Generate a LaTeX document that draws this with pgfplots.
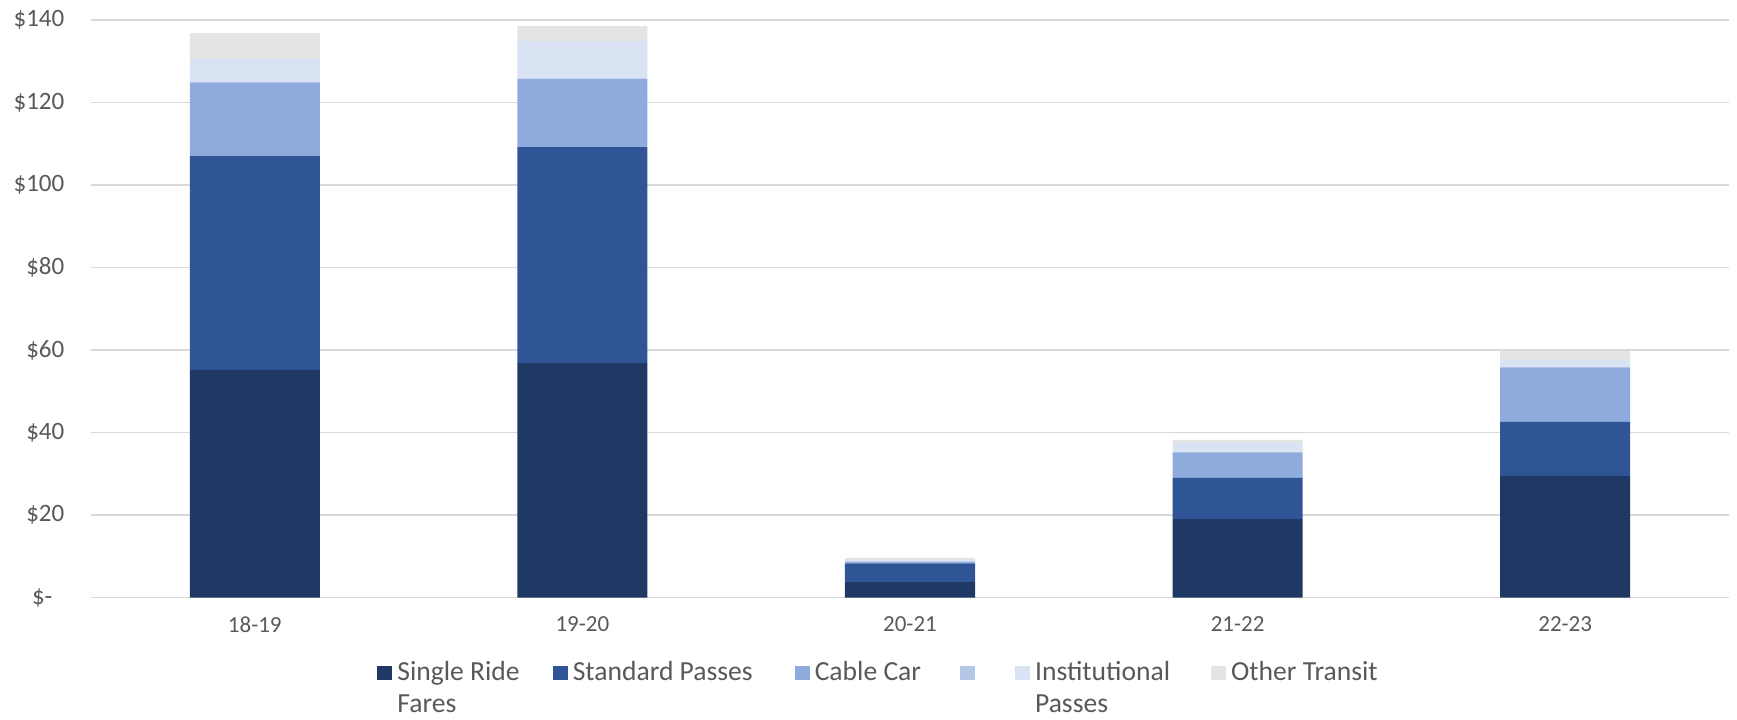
\documentclass[border=0pt]{standalone}
\usepackage{pgfplots}
\pgfplotsset{compat=1.18}
\usepackage{fontspec}
\setmainfont{Carlito}

\definecolor{single}{HTML}{203864}
\definecolor{standard}{HTML}{2F5597}
\definecolor{cable}{HTML}{8FAADC}
\definecolor{blank}{HTML}{B4C7E7}
\definecolor{inst}{HTML}{DAE3F3}
\definecolor{other}{HTML}{E4E4E4}
\definecolor{gridgray}{HTML}{D9D9D9}
\definecolor{txtgray}{HTML}{595959}

% fiscal year, then segment values ($M)
\pgfplotstableread{
x  single standard cable blank inst other
0  55.2   51.8     17.9  0     5.6  6.3
1  56.8   52.4     16.6  0     9.1  3.6
2  3.75   4.55     0.4   0     0.4  0.5
3  19.0   10.0     6.2   0     2.2  0.8
4  29.5   13.1     13.2  0     1.8  2.2
}\fares

\begin{document}
\begin{tikzpicture}
\useasboundingbox (-45.5pt,-60.75pt) rectangle (823pt,298.75pt);
\begin{axis}[
    scale only axis,
    width=819pt, height=288.75pt,
    ybar stacked,
    bar width=0.397,
    xmin=-0.5, xmax=4.5,
    ymin=0, ymax=140,
    xtick=data,
    xticklabels={18-19,19-20,20-21,21-22,22-23},
    ytick={0,20,...,140},
    yticklabels={\$-\hspace*{6pt},\$20,\$40,\$60,\$80,\$100,\$120,\$140},
    major tick length=0pt,
    axis line style={draw=none},
    ymajorgrids,
    grid style={gridgray, line width=0.9pt},
    yticklabel style={font=\fontsize{12.5}{14}\selectfont, text=txtgray, xshift=-9.8pt},
    xticklabel style={font=\fontsize{11.5}{13}\selectfont, text=txtgray, yshift=-5.9pt},
    legend columns=6,
    legend style={at={(0.1746,-0.1103)}, anchor=north west, draw=none, inner sep=0pt,
        font=\fontsize{13.8}{15.8}\selectfont, text=txtgray,
        nodes={inner sep=0pt},
        /tikz/every odd column/.append style={column sep=2.5pt},
        /tikz/every even column/.append style={column sep=16.5pt}},
    legend cell align=left,
    legend image code/.code={\fill[#1] (0pt,-3.5pt) rectangle (7.5pt,3.5pt);},
]
\addplot[fill=single, draw=none] table[x=x, y=single] {\fares};
\addplot[fill=standard, draw=none] table[x=x, y=standard] {\fares};
\addplot[fill=cable, draw=none] table[x=x, y=cable] {\fares};
\addplot[fill=blank, draw=none] table[x=x, y=blank] {\fares};
\addplot[fill=inst, draw=none] table[x=x, y=inst] {\fares};
\addplot[fill=other, draw=none] table[x=x, y=other] {\fares};
\legend{{\vtop{\hbox{Single Ride}\hbox{Fares}}},
    {Standard Passes\hspace*{4.5pt}}, {Cable Car\hspace*{3pt}}, {\mbox{}},
    {\vtop{\hbox{Institutional\hspace*{4pt}}\hbox{Passes}}},
    Other Transit}
\end{axis}
\end{tikzpicture}
\end{document}
